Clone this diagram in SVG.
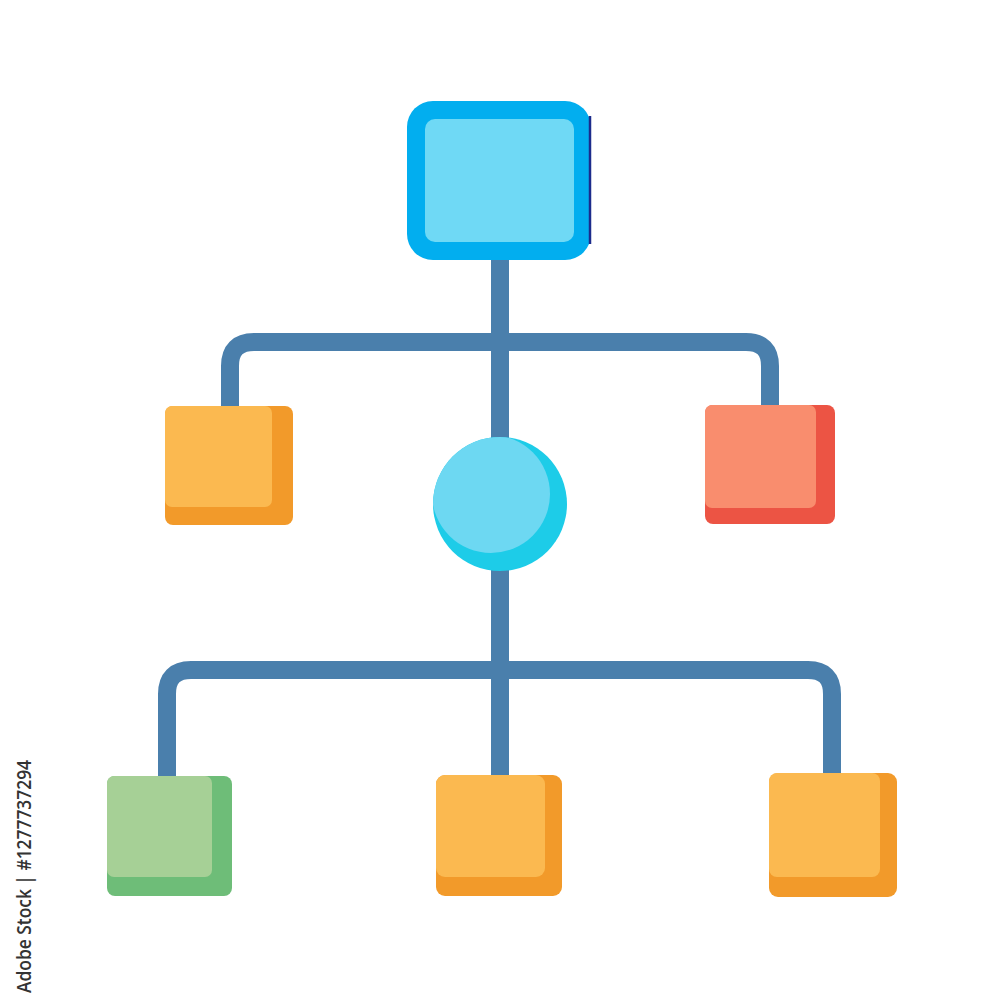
<svg xmlns="http://www.w3.org/2000/svg" width="1000" height="1000" viewBox="0 0 1000 1000">
  <style>
    .wire { fill: none; stroke: #4A7FAC; stroke-width: 18; stroke-linejoin: round; }
    .orange-d { fill: #F29A2A; }
    .orange-l { fill: #FBB950; }
    .red-d { fill: #EC5444; }
    .red-l { fill: #F98D6E; }
    .green-d { fill: #6EBD78; }
    .green-l { fill: #A6D096; }
    .stamp { font-family: "Open Sans", "DejaVu Sans", sans-serif; font-size: 19px; font-weight: 600; fill: #333333; }
  </style>
  <defs>
    <clipPath id="circleClip">
      <circle cx="500" cy="504" r="67"/>
    </clipPath>
  </defs>
  <rect width="1000" height="1000" fill="#FFFFFF"/>

  <g id="connectors">
    <path class="wire" d="M500,258 V440"/>
    <path class="wire" d="M230,408 V366 Q230,342 254,342 H746 Q770,342 770,366 V407"/>
    <path class="wire" d="M500,568 V777"/>
    <path class="wire" d="M167,778 V694 Q167,670 191,670 H808 Q832,670 832,694 V775"/>
  </g>

  <g id="node-top">
    <rect x="407" y="101" width="184" height="159" rx="26" fill="#02AEEF"/>
    <line x1="590" y1="116" x2="590" y2="244" stroke="#1C2C8C" stroke-width="2.5"/>
    <rect x="425" y="119" width="149" height="123" rx="10" fill="#6FD9F5"/>
  </g>

  <g id="node-left">
    <rect class="orange-d" x="165" y="406" width="128" height="119" rx="8"/>
    <rect class="orange-l" x="165" y="406" width="107" height="101" rx="7"/>
  </g>

  <g id="node-right">
    <rect class="red-d" x="705" y="405" width="130" height="119" rx="8"/>
    <rect class="red-l" x="705" y="405" width="111" height="103" rx="7"/>
  </g>

  <g id="node-center">
    <circle cx="500" cy="504" r="67" fill="#1DCCE8"/>
    <circle cx="491" cy="494" r="59" fill="#6DD8F2" clip-path="url(#circleClip)"/>
  </g>

  <g id="node-bottom-left">
    <rect class="green-d" x="107" y="776" width="125" height="120" rx="8"/>
    <rect class="green-l" x="107" y="776" width="105" height="101" rx="7"/>
  </g>

  <g id="node-bottom-middle">
    <rect class="orange-d" x="436" y="775" width="126" height="121" rx="9"/>
    <rect class="orange-l" x="436" y="775" width="109" height="102" rx="9"/>
  </g>

  <g id="node-bottom-right">
    <rect class="orange-d" x="769" y="773" width="128" height="124" rx="9"/>
    <rect class="orange-l" x="769" y="773" width="111" height="104" rx="8"/>
  </g>

  <text class="stamp" transform="translate(31,993) rotate(-90)" textLength="233" lengthAdjust="spacingAndGlyphs">Adobe Stock | #1277737294</text>
</svg>
